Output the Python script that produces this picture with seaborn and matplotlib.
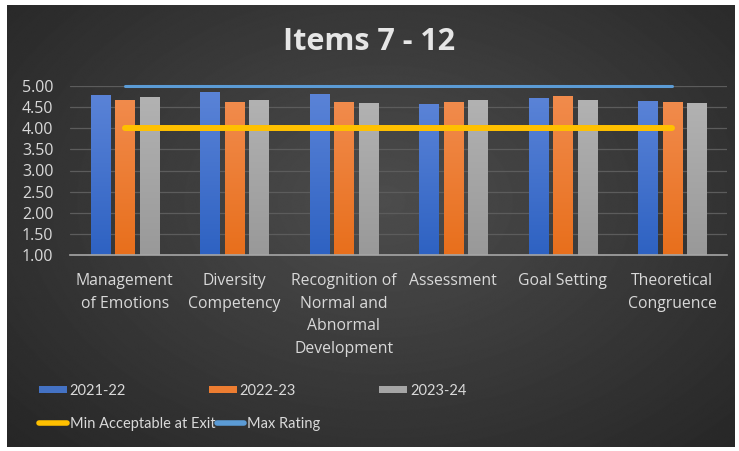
import numpy as np
import pandas as pd
import seaborn as sns
import matplotlib.pyplot as plt
from matplotlib.patches import Patch
from matplotlib.lines import Line2D
from matplotlib.colors import LinearSegmentedColormap

#####################
#DATA
categories = ['Management\nof Emotions', 'Diversity\nCompetency',
              'Recognition of\nNormal and\nAbnormal\nDevelopment',
              'Assessment', 'Goal Setting', 'Theoretical\nCongruence']
years = ['2021-22', '2022-23', '2023-24']
vals_2122 = [4.79, 4.85, 4.81, 4.57, 4.72, 4.65]
vals_2223 = [4.67, 4.62, 4.62, 4.62, 4.76, 4.62]
vals_2324 = [4.73, 4.67, 4.60, 4.67, 4.67, 4.60]
min_acceptable = [4.0, 4.0, 4.0, 4.0, 4.0, 4.0]
max_rating = [5.0, 5.0, 5.0, 5.0, 5.0, 5.0]
yticks = [1.00, 1.50, 2.00, 2.50, 3.00, 3.50, 4.00, 4.50, 5.00]

df = pd.DataFrame({
    'item': categories * 3,
    'year': [years[0]] * 6 + [years[1]] * 6 + [years[2]] * 6,
    'score': vals_2122 + vals_2223 + vals_2324,
})

colors = {'2021-22': '#4472C4', '2022-23': '#ED7D31', '2023-24': '#A5A5A5'}
#top / bottom shades for the excel style gradient fill
grads = {'#4472C4': ('#5a83d7', '#2e62c2'),
         '#ED7D31': ('#f18b4c', '#e86f1c'),
         '#A5A5A5': ('#b2b2b2', '#999999')}
txt = '#d9d9d9'
font = ['Open Sans', 'DejaVu Sans']
leg_font = ['Lato', 'DejaVu Sans']

sns.set_theme(style='dark')
plt.rcParams['font.family'] = font

fig = plt.figure(figsize=(7.39, 4.51), dpi=100)
fig.patch.set_facecolor('white')

#background: dark radial gradient inside a white frame
bg = fig.add_axes([0, 0, 1, 1], zorder=-10)
bg.set_xlim(0, 739)
bg.set_ylim(451, 0)
bg.axis('off')
yy, xx = np.mgrid[0:451, 0:739]
r = np.sqrt(((xx - 380) / 520) ** 2 + ((yy - 200) / 360) ** 2)
shade = np.clip(0.30 - 0.15 * r, 0.15, 0.30)
bg.imshow(shade, cmap='gray', vmin=0, vmax=1, extent=(7, 735, 447, 5), aspect='auto')

ax = fig.add_axes([70 / 739, 1 - 255 / 451, 657 / 739, 169 / 451])
ax.set_facecolor('none')

sns.barplot(data=df, x='item', y='score', hue='year', palette=colors,
            width=0.67, gap=0.22, saturation=1, ax=ax, legend=False,
            edgecolor='none', linewidth=0, zorder=3)

ax.set_ylim(1, 5)
ax.set_xlim(-0.5, 5.5)

#vertical gradient on each bar
grad = np.linspace(1, 0, 100).reshape(-1, 1)
for bar in list(ax.patches):
    fc = '#%02X%02X%02X' % tuple(int(round(c * 255)) for c in bar.get_facecolor()[:3])
    if fc not in grads:
        continue
    top, bot = grads[fc]
    cmap = LinearSegmentedColormap.from_list('g', [bot, top])
    bx, bw = bar.get_x(), bar.get_width()
    im = ax.imshow(grad, cmap=cmap, vmin=0, vmax=1, aspect='auto', zorder=3.5,
                   extent=(bx, bx + bw, 1, bar.get_height()))
    im.set_clip_path(bar)
ax.set_xlim(-0.5, 5.5)
ax.set_ylim(1, 5)

x = np.arange(len(categories))
ax.plot(x, min_acceptable, color='#FFC000', lw=4.3, solid_capstyle='round', zorder=4)
ax.plot(x, max_rating, color='#5B9BD5', lw=2.2, solid_capstyle='round', zorder=4, clip_on=False)

ax.set_yticks(yticks)
ax.set_yticklabels([f'{v:.2f}' for v in yticks], color=txt, fontsize=11.5)
ax.set_xticks(x)
ax.set_xticklabels(categories, color=txt, fontsize=11.3, linespacing=1.55)
ax.tick_params(axis='y', length=0, pad=12)
ax.tick_params(axis='x', length=0, pad=13)
ax.set_xlabel('')
ax.set_ylabel('')
ax.grid(axis='y', color='#5c5c5c', lw=0.9, zorder=0)
ax.grid(axis='x', visible=False)
for s in ['top', 'right', 'left']:
    ax.spines[s].set_visible(False)
ax.spines['bottom'].set_color('#a6a6a6')
ax.spines['bottom'].set_linewidth(1.2)
ax.spines['bottom'].set_zorder(5)

fig.text(0.5, 1 - 42 / 451, 'Items 7 - 12', ha='center', va='center',
         color='#e6e6e6', fontsize=22, fontweight='bold')

#legend rows
row1 = [Patch(facecolor=colors[y], edgecolor='none', label=y) for y in years]
leg1 = fig.legend(handles=row1, loc='center left', bbox_to_anchor=(39 / 739, 1 - 391 / 451),
                  ncol=3, frameon=False, prop={'family': leg_font, 'size': 10.5}, labelcolor=txt,
                  handlelength=1.9, handleheight=0.35, handletextpad=0.2,
                  columnspacing=5.7, borderpad=0, borderaxespad=0)
row2 = [Line2D([], [], color='#FFC000', lw=4, solid_capstyle='round', label='Min Acceptable at Exit'),
        Line2D([], [], color='#5B9BD5', lw=4, solid_capstyle='round', label='Max Rating')]
leg2 = fig.legend(handles=row2, loc='center left', bbox_to_anchor=(39 / 739, 1 - 424 / 451),
                  ncol=2, frameon=False, prop={'family': leg_font, 'size': 10.5}, labelcolor=txt,
                  handlelength=1.9, handletextpad=0.2, columnspacing=0.1,
                  borderpad=0, borderaxespad=0)

fig.savefig('out.png', dpi=100, facecolor=fig.get_facecolor())
